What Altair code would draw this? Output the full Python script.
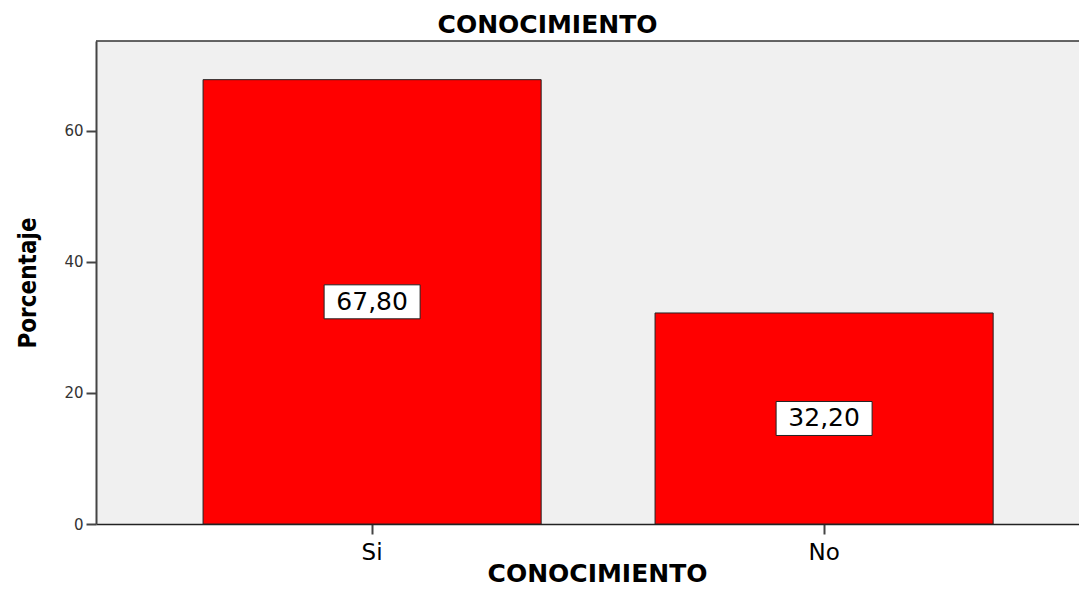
import altair as alt
import pandas as pd

categories = ["Si", "No"]
percentages = [67.80, 32.20]
value_labels = ["67,80", "32,20"]
y_ticks = [0, 20, 40, 60]
chart_title = "CONOCIMIENTO"
x_title = "CONOCIMIENTO"
y_title = "Porcentaje"

df = pd.DataFrame({"cat": categories, "pct": percentages, "lab": value_labels})

W, H = 983, 483

x_enc = alt.X(
    "cat:N", sort=categories, title=x_title,
    scale=alt.Scale(paddingInner=0.252, paddingOuter=0.2134, align=0.555),
    axis=alt.Axis(
        labelAngle=0, labelFont="DejaVu Sans", labelFontSize=23, labelColor="black",
        labelPadding=7, tickSize=10, tickWidth=2, tickColor="#444",
        domainColor="#222", domainWidth=1.5,
        titleFont="DejaVu Sans", titleFontWeight="bold", titleFontSize=25,
        titleColor="black", titleBaseline="alphabetic", titleY=57, titleX=501,
    ),
)
y_enc = alt.Y(
    "pct:Q", title=y_title,
    scale=alt.Scale(domain=[0, 73.7], nice=False, zero=True),
    axis=alt.Axis(
        values=y_ticks, grid=False, labelFont="DejaVu Sans", labelFontSize=15,
        labelColor="#333", labelPadding=3, tickSize=10, tickWidth=2, tickColor="#444",
        domainColor="#444", domainWidth=2,
        titleFont="Liberation Sans Narrow, DejaVu Sans Condensed, sans-serif",
        titleFontSize=24, titleFontWeight="bold", titleColor="black",
        titleX=-68, titleY=H / 2, titleBaseline="middle", titleAngle=270,
    ),
)

base = alt.Chart(df)

bars = base.mark_bar(color="#FF0000", stroke="#222", strokeWidth=1).encode(x=x_enc, y=y_enc)

boxes = base.transform_calculate(mid="datum.pct / 2").mark_point(
    shape="M-1,-0.354H1V0.354H-1Z", size=9216, filled=True, fill="white",
    stroke="#222", strokeWidth=1, opacity=1,
).encode(x=alt.X("cat:N", sort=categories), y=alt.Y("mid:Q"))

texts = base.transform_calculate(mid="datum.pct / 2").mark_text(
    font="DejaVu Sans", fontSize=25, color="black", baseline="middle",
).encode(x=alt.X("cat:N", sort=categories), y=alt.Y("mid:Q"), text="lab:N")

border = alt.Chart(pd.DataFrame({"a": [0]})).mark_rule(color="#333", strokeWidth=1.5).encode(
    x=alt.value(0), x2=alt.value(W), y=alt.value(0)
)

chart = alt.layer(bars, boxes, texts, border).properties(
    width=W, height=H,
    title=alt.TitleParams(
        chart_title, font="DejaVu Sans", fontSize=25, fontWeight="bold", color="black",
        anchor="middle", dx=-40, dy=26, baseline="alphabetic", offset=8,
    ),
    autosize=alt.AutoSizeParams(type="none"),
    padding={"left": 88, "top": 33, "right": 0, "bottom": 62},
).configure_view(fill="#F0F0F0", strokeWidth=0)

chart.save("out.html", embed_options={"renderer": "svg", "actions": False})
